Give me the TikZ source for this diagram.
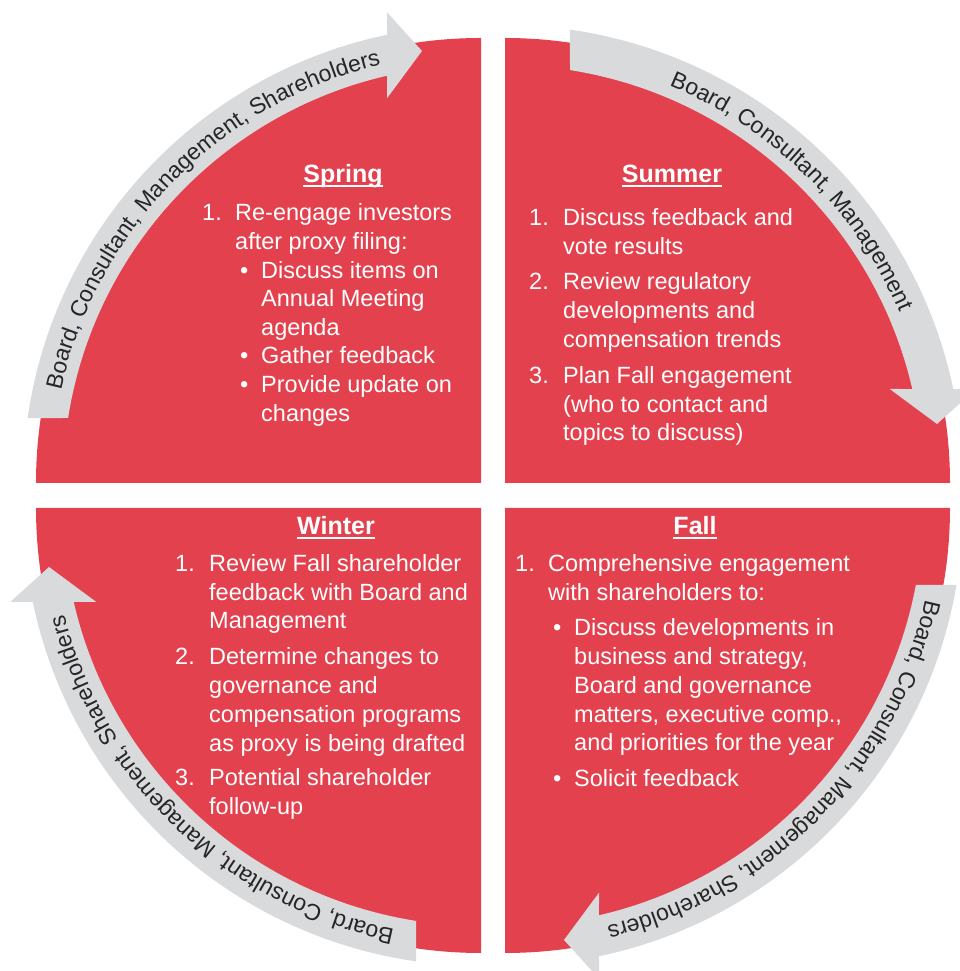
\documentclass[tikz,border=0pt]{standalone}
\usepackage{fontspec}
\setmainfont{Liberation Sans}
\usetikzlibrary{decorations.text}
\definecolor{wedgered}{RGB}{227,65,78}
\definecolor{bandgray}{RGB}{217,218,220}
\definecolor{bandtext}{RGB}{38,38,38}
\newcommand\arrowfont{\fontsize{23}{27}\selectfont}
\tikzset{
  wedge/.style={fill=wedgered},
  band/.style={fill=bandgray},
  body/.style={text=white, font=\fontsize{23.5}{28}\selectfont, anchor=base west, inner sep=0pt},
  head/.style={text=white, font=\bfseries\fontsize{25}{30}\selectfont, anchor=base, inner sep=0pt},
  uline/.style={draw=white, line width=1.6pt},
}
% gray curved arrow band: #1 corner, #2 rotation, #3 tail offset
\newcommand\cycband[3]{%
\begin{scope}[shift={(#1)}, rotate=#2]
\fill[band] ({180-asin(#3/458)}:458)
  arc[start angle={180-asin(#3/458)}, end angle={90+asin(94/458)}, radius=458]
  -- (-94,470.7) -- (-59,432) -- (-94,384.7) -- ({90+asin(94/418)}:418)
  arc[start angle={90+asin(94/418)}, end angle={180-asin(#3/418)}, radius=418] -- cycle;
\end{scope}}
% text along band: #1 corner, #2 middle angle, #3 text
\newcommand\cyctext[3]{%
\begin{scope}[shift={(#1)}]
\path[decorate, decoration={text along path, text align=center,
  text={|\arrowfont\color{bandtext}|#3}}]
  ({#2+45}:430) arc[start angle={#2+45}, end angle={#2-45}, radius=430];
\end{scope}}
\newcommand\bl[4]{\node[body] (#1) at (#2,{971-#3}) {#4};}
\newcommand\hd[4]{\node[head] (#1) at (#2,{971-#3}) {#4};
  \draw[uline] ([yshift=-3pt]#1.base west) -- ([yshift=-3pt]#1.base east);}
\begin{document}
\begin{tikzpicture}[x=1pt,y=1pt]
\useasboundingbox (0,0) rectangle (960,971);
\fill[white] (0,0) rectangle (960,971);
\clip (0,0) rectangle (960,971);
\coordinate (cTL) at (481,488);
\coordinate (cTR) at (505,488);
\coordinate (cBL) at (481,463);
\coordinate (cBR) at (505,463);
% quadrants
\fill[wedge] (cTL) -- ++(0,445) arc[start angle=90, end angle=180, radius=445] -- cycle;
\fill[wedge] (cTR) -- ++(445,0) arc[start angle=0, end angle=90, radius=445] -- cycle;
\fill[wedge] (cBL) -- ++(-445,0) arc[start angle=180, end angle=270, radius=445] -- cycle;
\fill[wedge] (cBR) -- ++(0,-445) arc[start angle=270, end angle=360, radius=445] -- cycle;
% arrows
\cycband{cTL}{0}{65}
\cycband{cTR}{-90}{65}
\cycband{cBR}{-180}{77}
\cycband{cBL}{90}{65}
\cyctext{cTL}{135.5}{Board, Consultant, Management, Shareholders}
\cyctext{cTR}{45.5}{Board, Consultant, Management}
\cyctext{cBR}{-44.25}{Board, Consultant, Management, Shareholders}
\cyctext{cBL}{-133.6}{Board, Consultant, Management, Shareholders}
% Spring
\hd{sph}{343}{183}{Spring}
\bl{sp1n}{202}{221}{1.}
\bl{sp1a}{235}{221}{Re-engage investors}
\bl{sp1b}{235}{249.6}{after proxy filing:}
\bl{sp1c}{240}{278.2}{\textbullet}
\bl{sp1d}{261}{278.2}{Discuss items on}
\bl{sp1e}{261}{306.8}{Annual Meeting}
\bl{sp1f}{261}{335.4}{agenda}
\bl{sp1g}{240}{364}{\textbullet}
\bl{sp1h}{261}{364}{Gather feedback}
\bl{sp1i}{240}{392.6}{\textbullet}
\bl{sp1j}{261}{392.6}{Provide update on}
\bl{sp1k}{261}{421.2}{changes}
% Summer
\hd{suh}{672}{183}{Summer}
\bl{su1n}{529}{225.5}{1.}
\bl{su1a}{563}{225.5}{Discuss feedback and}
\bl{su1b}{563}{254.2}{vote results}
\bl{su2n}{529}{290}{2.}
\bl{su2a}{563}{290}{Review regulatory}
\bl{su2b}{563}{318.7}{developments and}
\bl{su2c}{563}{347.4}{compensation trends}
\bl{su3n}{529}{383.5}{3.}
\bl{su3a}{563}{383.5}{Plan Fall engagement}
\bl{su3b}{563}{412.2}{(who to contact and}
\bl{su3c}{563}{440.9}{topics to discuss)}
% Winter
\hd{wih}{336}{535}{Winter}
\bl{wi1n}{175}{571.5}{1.}
\bl{wi1a}{209}{571.5}{Review Fall shareholder}
\bl{wi1b}{209}{600.2}{feedback with Board and}
\bl{wi1c}{209}{628.9}{Management}
\bl{wi2n}{175}{665}{2.}
\bl{wi2a}{209}{665}{Determine changes to}
\bl{wi2b}{209}{693.7}{governance and}
\bl{wi2c}{209}{722.4}{compensation programs}
\bl{wi2d}{209}{751.1}{as proxy is being drafted}
\bl{wi3n}{175}{786}{3.}
\bl{wi3a}{209}{786}{Potential shareholder}
\bl{wi3b}{209}{814.7}{follow-up}
% Fall
\hd{fah}{695}{535}{Fall}
\bl{fa1n}{515}{571.5}{1.}
\bl{fa1a}{548}{571.5}{Comprehensive engagement}
\bl{fa1b}{548}{600.2}{with shareholders to:}
\bl{fa1c}{553}{636}{\textbullet}
\bl{fa1d}{574}{636}{Discuss developments in}
\bl{fa1e}{574}{664.7}{business and strategy,}
\bl{fa1f}{574}{693.4}{Board and governance}
\bl{fa1g}{574}{722.1}{matters, executive comp.,}
\bl{fa1h}{574}{750.8}{and priorities for the year}
\bl{fa1i}{553}{786.5}{\textbullet}
\bl{fa1j}{574}{786.5}{Solicit feedback}
\end{tikzpicture}
\end{document}
